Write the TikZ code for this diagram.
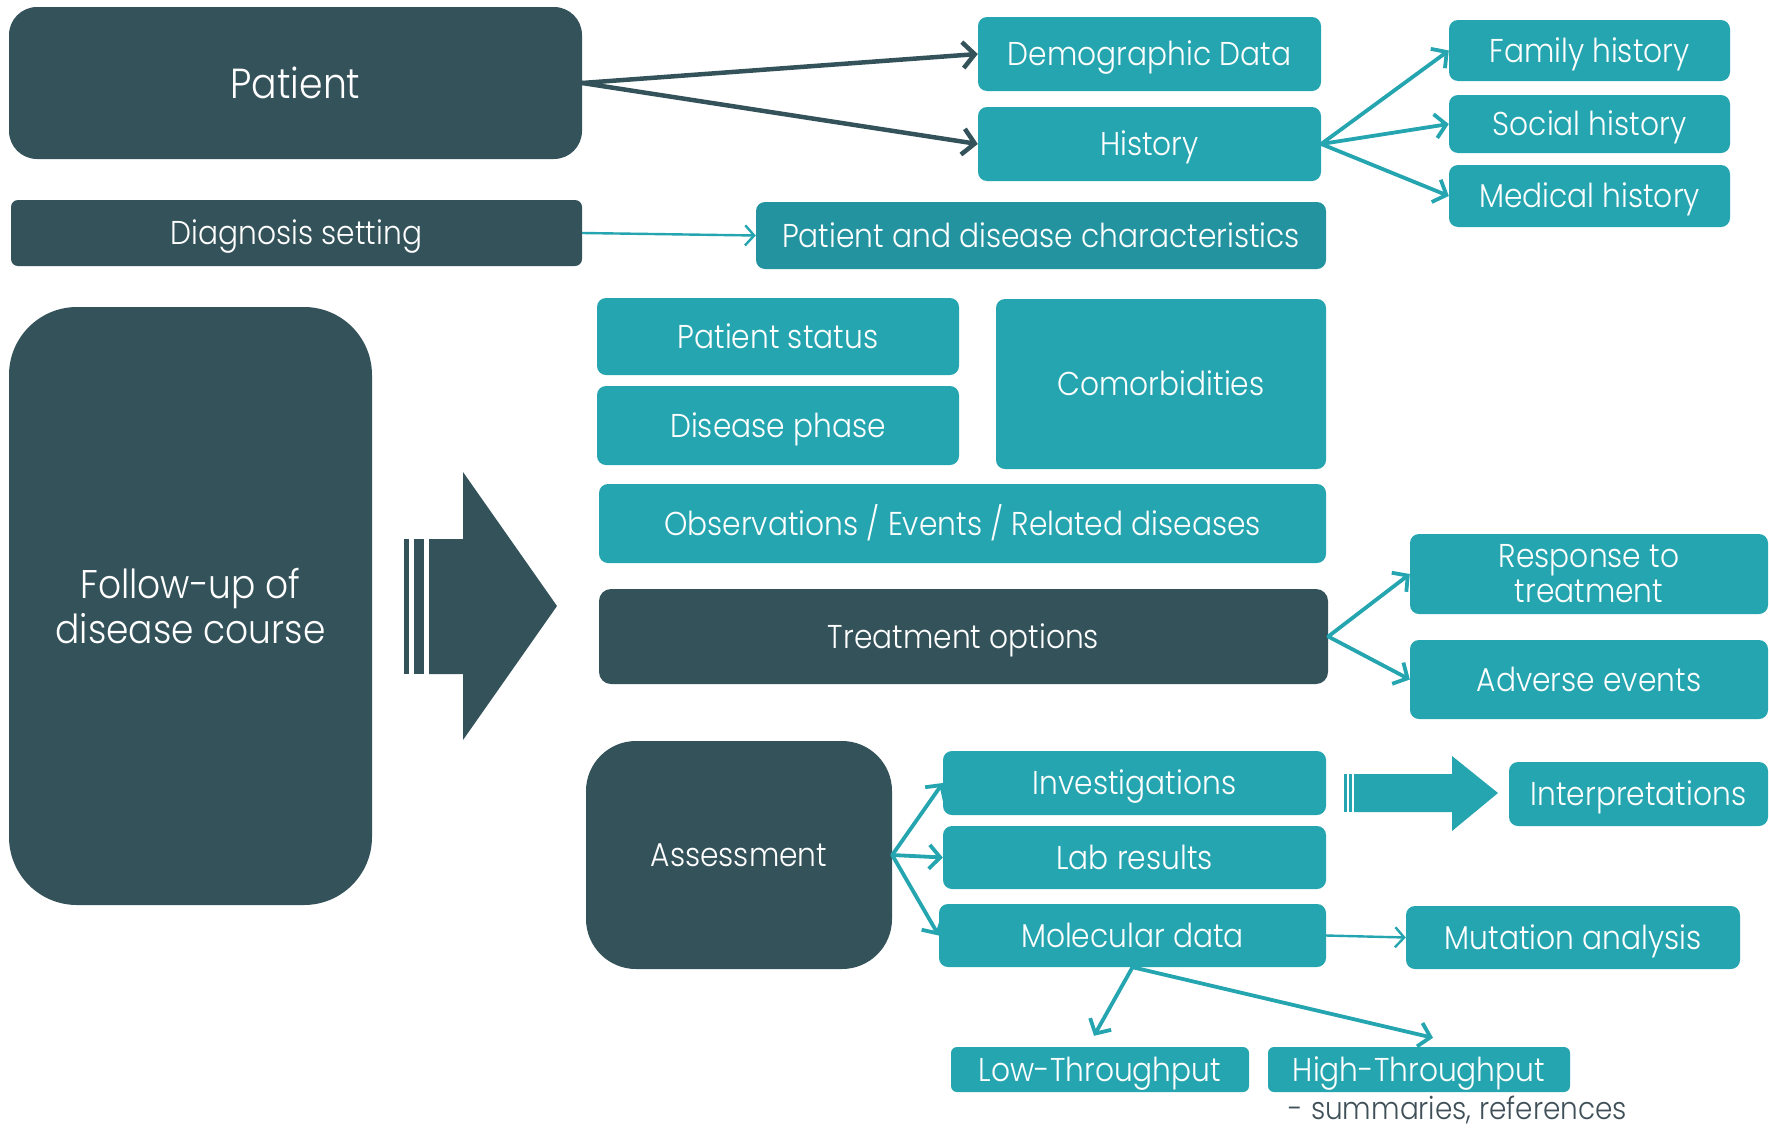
\documentclass[tikz,border=0pt]{standalone}
\usepackage{fontspec}
\setmainfont{Poppins Light}[FakeStretch=0.9]
\usetikzlibrary{arrows.meta}
\definecolor{dark}{HTML}{34525A}
\definecolor{teal1}{HTML}{25A5B0}
\definecolor{teal2}{HTML}{2393A0}
\definecolor{greytext}{HTML}{3F5058}
\tikzset{
  box/.style={rounded corners=9pt, inner sep=0pt, text=white,
    font=\fontsize{33}{38}\selectfont},
  lbl/.style={text height=25pt, text depth=2pt},
  tbox/.style={box, lbl, fill=teal1},
  dbox/.style={box, lbl, fill=dark},
  darr/.style={draw=dark, line width=4.5pt, -{Straight Barb[length=12pt,width=26pt,line width=4.5pt]}, line cap=round},
  tarr/.style={draw=teal1, line width=3.8pt, -{Straight Barb[length=11pt,width=24pt,line width=3.8pt]}, line cap=round},
  thin/.style={draw=teal1, line width=2.4pt, -{Straight Barb[length=9pt,width=20pt,line width=2.4pt]}},
}
\begin{document}
\begin{tikzpicture}[x=1pt,y=-1pt]
\useasboundingbox (0,0) rectangle (1769,1130);
% top block
\node[dbox, rounded corners=28pt, minimum width=573pt, minimum height=152pt, text height=31pt, text depth=1pt, font=\fontsize{42}{46}\selectfont] (patient) at (295.5,83) {Patient};
\node[tbox, minimum width=343pt, minimum height=74pt] (demo) at (1149.5,54) {Demographic Data};
\node[tbox, minimum width=343pt, minimum height=74pt] (hist) at (1149.5,144) {History};
\node[tbox, minimum width=281pt, minimum height=61pt] (fam) at (1589.5,50.5) {Family history};
\node[tbox, minimum width=281pt, minimum height=58pt] (soc) at (1589.5,124) {Social history};
\node[tbox, minimum width=281pt, minimum height=62pt] (med) at (1589.5,196) {Medical history};
\node[dbox, rounded corners=7pt, minimum width=571pt, minimum height=66pt] (diag) at (296.5,233) {Diagnosis setting};
\node[box, lbl, fill=teal2, minimum width=570pt, minimum height=67pt] (pdc) at (1041,235.5) {Patient and disease characteristics};

\draw[darr] (patient.east) -- (demo.west);
\draw[darr] (patient.east) -- (hist.west);
\draw[tarr] (hist.east) -- (fam.west);
\draw[tarr] (hist.east) -- (soc.west);
\draw[tarr] (hist.east) -- (med.west);
\draw[thin] (diag.east) -- (pdc.west);

% follow-up
\node[box, fill=dark, align=center, rounded corners=68pt, minimum width=363pt, minimum height=598pt, font=\fontsize{40}{45}\selectfont] (follow) at (190.5,606) {Follow-up of\\disease course};
% big striped arrow
\fill[dark] (404,539) rectangle (409,674);
\fill[dark] (414,539) rectangle (424,674);
\fill[dark] (429,539) -- (463,539) -- (463,472) -- (557,606) -- (463,740) -- (463,674) -- (429,674) -- cycle;

\node[tbox, minimum width=362pt, minimum height=77pt] (status) at (778,336.5) {Patient status};
\node[tbox, minimum width=362pt, minimum height=79pt] (phase) at (778,425.5) {Disease phase};
\node[tbox, minimum width=330pt, minimum height=170pt] (comor) at (1161,384) {Comorbidities};
\node[tbox, minimum width=727pt, minimum height=79pt] (obs) at (962.5,523.5) {Observations / Events / Related diseases};
\node[dbox, rounded corners=12pt, minimum width=729pt, minimum height=95pt] (treat) at (963.5,636.5) {Treatment options};
\node[box, fill=teal1, align=center, minimum width=358pt, minimum height=80pt, font=\fontsize{33}{35}\selectfont] (resp) at (1589,574) {Response to\\treatment};
\node[tbox, minimum width=358pt, minimum height=79pt] (adv) at (1589,679.5) {Adverse events};
\draw[tarr] (treat.east) -- (resp.west);
\draw[tarr] (treat.east) -- (adv.west);

% assessment
\node[dbox, rounded corners=50pt, minimum width=306pt, minimum height=228pt] (assess) at (739,855) {Assessment};
\node[tbox, minimum width=383pt, minimum height=64pt] (inv) at (1134.5,783) {Investigations};
\node[tbox, minimum width=383pt, minimum height=63pt] (lab) at (1134.5,857.5) {Lab results};
\node[tbox, minimum width=387pt, minimum height=63pt] (mol) at (1132.5,935.5) {Molecular data};
\node[tbox, minimum width=259pt, minimum height=64pt] (interp) at (1638.5,794) {Interpretations};
\node[tbox, minimum width=334pt, minimum height=63pt] (mut) at (1573,937.5) {Mutation analysis};
\node[tbox, rounded corners=6pt, minimum width=298pt, minimum height=45pt] (low) at (1100,1069.5) {Low-Throughput};
\node[tbox, rounded corners=6pt, minimum width=302pt, minimum height=45pt] (high) at (1419,1069.5) {High-Throughput};
\node[inner sep=0pt, anchor=base, text=greytext, font=\fontsize{31}{36}\selectfont] (summ) at (1458,1119) {- summaries, references};

\draw[tarr] (assess.east) -- (inv.west);
\draw[tarr] (assess.east) -- (lab.west);
\draw[tarr] (assess.east) -- (mol.west);
\draw[thin] (mol.east) -- (mut.west);
\draw[tarr] (mol.south) -- ([xshift=-6pt,yshift=11pt]low.north);
\draw[tarr] (mol.south) -- ([xshift=14pt,yshift=9pt]high.north);

% teal striped arrow
\fill[teal1] (1344,774) rectangle (1346.5,812);
\fill[teal1] (1349,774) rectangle (1351.5,812);
\fill[teal1] (1354,774) -- (1452,774) -- (1452,756) -- (1498,793) -- (1452,831) -- (1452,812) -- (1354,812) -- cycle;
\end{tikzpicture}
\end{document}
